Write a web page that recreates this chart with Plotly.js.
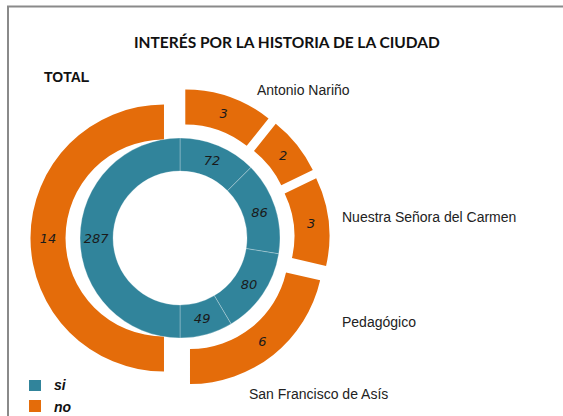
<!DOCTYPE html>
<html>
<head>
<meta charset="utf-8">
<script src="https://cdn.plot.ly/plotly-3.0.1.min.js"></script>
<style>html,body{margin:0;padding:0;background:#fff;}#chart{width:563px;height:416px;}</style>
</head>
<body>
<div id="chart"></div>
<script>
// Data
const schools = ["Antonio Nariño", "Nuestra Señora del Carmen", "Pedagógico", "San Francisco de Asís"];
const siValues = [72, 86, 80, 49];
const noValues = [3, 2, 3, 6];
const totalLabel = "TOTAL";
const siTotal = 287;
const noTotal = 14;
const seriesNames = ["si", "no"];
const chartTitle = "INTERÉS POR LA HISTORIA DE LA CIUDAD";

const W = 563, H = 416;
const px = x => x / W;
const py = y => 1 - y / H;

const TEAL = "#31849B", ORANGE = "#E46C0A";
const cx = 180, cy = 238;
const innerR = 100, outerR = 133.5, pullFrac = 0.12;
const outerHalf = outerR * (1 + pullFrac);

const labelFont = {family: "DejaVu Sans, Verdana, sans-serif", size: 13, color: "#1a1a1a", style: "italic"};

const inner = {
  type: "pie",
  values: siValues.concat([siTotal]),
  labels: schools.map(s => s + " si").concat([totalLabel + " si"]),
  sort: false,
  direction: "clockwise",
  rotation: 0,
  hole: 67 / 100,
  textinfo: "value",
  textposition: "inside",
  insidetextorientation: "horizontal",
  insidetextfont: labelFont,
  marker: {colors: Array(siValues.length + 1).fill(TEAL), line: {color: "rgba(255,255,255,0.35)", width: 0.8}},
  domain: {x: [px(cx - innerR), px(cx + innerR)], y: [py(cy + innerR), py(cy - innerR)]},
  showlegend: false,
  hoverinfo: "label+value"
};

const outer = {
  type: "pie",
  values: noValues.concat([noTotal]),
  labels: schools.map(s => s + " no").concat([totalLabel + " no"]),
  sort: false,
  direction: "clockwise",
  rotation: 0,
  hole: 98.5 / 133.5,
  pull: Array(noValues.length + 1).fill(pullFrac),
  textinfo: "value",
  textposition: "inside",
  insidetextorientation: "horizontal",
  insidetextfont: labelFont,
  marker: {colors: Array(noValues.length + 1).fill(ORANGE), line: {width: 0}},
  domain: {x: [px(cx - outerHalf), px(cx + outerHalf)], y: [py(cy + outerHalf), py(cy - outerHalf)]},
  showlegend: false,
  hoverinfo: "label+value"
};

const schoolLabelPos = [[303, 90], [429, 217], [379, 322], [318, 394]];
const annotations = [
  {text: "<b>" + chartTitle + "</b>", x: px(287), y: py(42), font: {family: "Lato, Carlito, sans-serif", size: 15.5, color: "#111"}},
  {text: "<b>" + totalLabel + "</b>", x: px(67), y: py(77), font: {family: "Liberation Sans, Arial, sans-serif", size: 14, color: "#111"}},
  {text: "<b><i>" + seriesNames[0] + "</i></b>", x: px(52), y: py(385), xanchor: "left", font: {family: "Liberation Sans, Arial, sans-serif", size: 14, color: "#111"}},
  {text: "<b><i>" + seriesNames[1] + "</i></b>", x: px(52), y: py(407), xanchor: "left", font: {family: "Liberation Sans, Arial, sans-serif", size: 14, color: "#111"}}
].concat(schools.map((s, i) => ({
  text: s, x: px(schoolLabelPos[i][0]), y: py(schoolLabelPos[i][1]),
  font: {family: "Liberation Sans, Arial, sans-serif", size: 14, color: "#222"}
})));
annotations.forEach(a => { a.xref = "paper"; a.yref = "paper"; a.showarrow = false; if (!a.xanchor) a.xanchor = "center"; a.yanchor = "middle"; });

const shapes = [
  {type: "rect", xref: "paper", yref: "paper", x0: px(8), x1: px(570), y0: py(6.5), y1: py(430), line: {color: "#8a8a8a", width: 2}, fillcolor: "rgba(0,0,0,0)"},
  {type: "rect", xref: "paper", yref: "paper", x0: px(29), x1: px(41), y0: py(391), y1: py(380), line: {width: 0}, fillcolor: TEAL},
  {type: "rect", xref: "paper", yref: "paper", x0: px(29), x1: px(41), y0: py(412), y1: py(400), line: {width: 0}, fillcolor: ORANGE}
];

Plotly.newPlot("chart", [outer, inner], {
  width: W, height: H,
  margin: {l: 0, r: 0, t: 0, b: 0},
  paper_bgcolor: "#fff",
  showlegend: false,
  annotations: annotations,
  shapes: shapes
}, {displayModeBar: false, staticPlot: true});
</script>
</body>
</html>
